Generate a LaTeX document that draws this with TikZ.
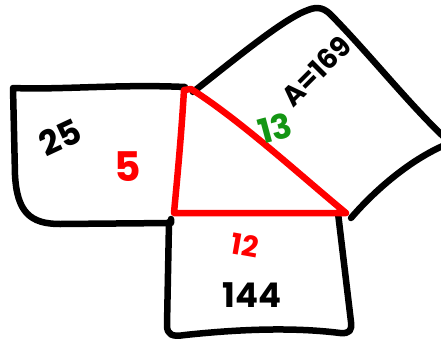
\documentclass[tikz,border=0pt]{standalone}
\usepackage{fontspec}
\setsansfont{Poppins}
\renewcommand{\familydefault}{\sfdefault}
\definecolor{penred}{RGB}{255,0,0}
\definecolor{pengreen}{RGB}{20,150,20}
\begin{document}
\begin{tikzpicture}[x=1pt,y=-1pt,
    ink/.style={line width=6.5pt,line cap=round,line join=round},
    redink/.style={ink,penred},
    hand/.style={font=\bfseries\fontsize{34}{34}\selectfont,inner sep=0pt}]
    \useasboundingbox (0,0) rectangle (441,343);
    \coordinate (top) at (184,90);
    \coordinate (left) at (174,213);
    \coordinate (right) at (346,213);
    \draw[ink] (185,87) .. controls (120,84) and (60,90) .. (13,88) -- (15,175) .. controls (17,212) and (30,224) .. (60,224) -- (171,223) -- (171,219);
    \draw[ink] (193,92) .. controls (240,55) and (285,18) .. (308,10) .. controls (318,6) and (325,8) .. (333,17) .. controls (370,55) and (410,105) .. (445,138);
    \draw[ink] (445,145) .. controls (410,160) and (375,190) .. (351,218);
    \draw[ink] (169,222) -- (167,325) .. controls (167,335) and (172,337) .. (185,335) .. controls (250,328) and (300,328) .. (340,333) .. controls (350,334) and (352,330) .. (351,322) -- (338,213);
    \draw[redink] (top) .. controls (181,140) and (177,180) .. (left) -- (right) .. controls (300,175) and (240,120) .. (191,89) -- cycle;
    \node[hand,rotate=25] (sq25) at (60,137) {25};
    \node[hand,penred,scale=1.2] (leg5) at (128,167) {5};
    \node[hand,pengreen,rotate=15] (hyp13) at (275,128) {13};
    \node[hand,rotate=45,scale=0.82] (area169) at (316,71) {A=169};
    \node[hand,penred,rotate=-10,scale=0.85] (leg12) at (245,245) {12};
    \node[hand] (sq144) at (252,295) {144};
\end{tikzpicture}
\end{document}
